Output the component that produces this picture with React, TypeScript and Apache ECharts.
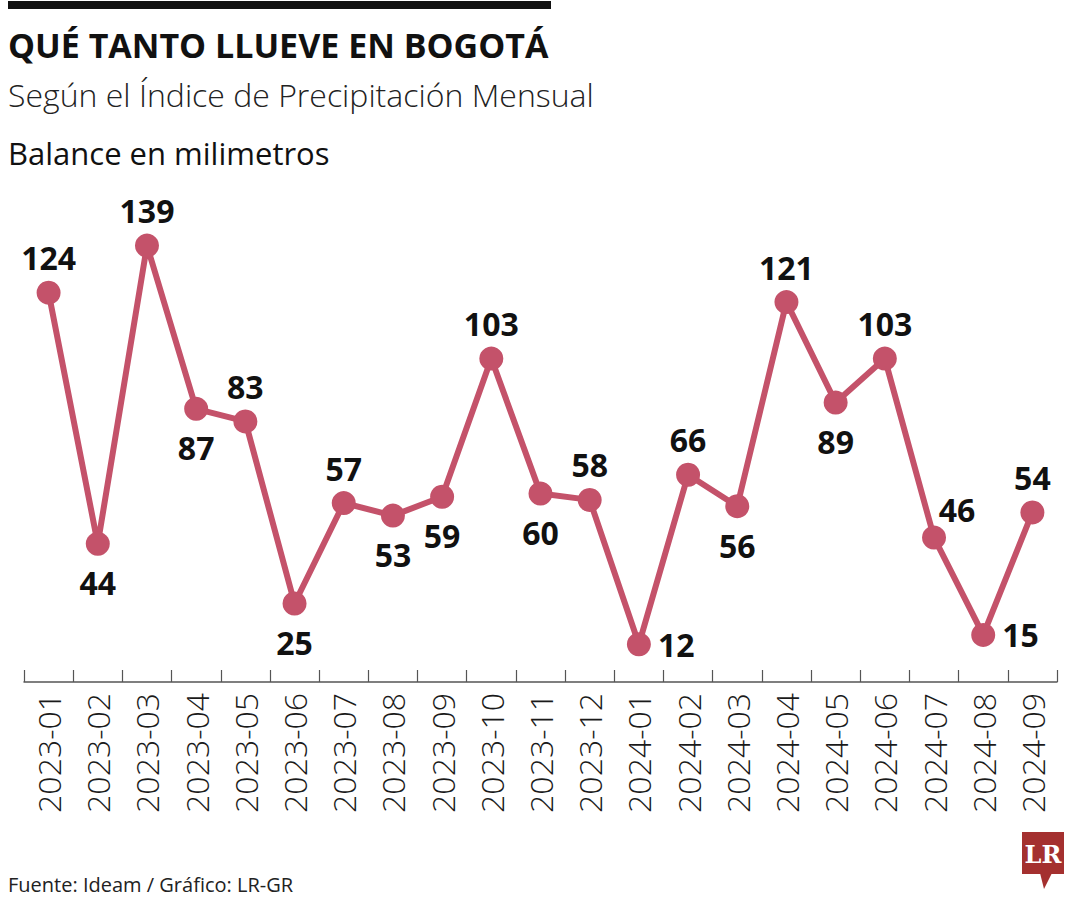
import React, { useEffect, useRef } from "react";
import * as echarts from "echarts";

const months = [
  "2023-01", "2023-02", "2023-03", "2023-04", "2023-05", "2023-06", "2023-07",
  "2023-08", "2023-09", "2023-10", "2023-11", "2023-12", "2024-01", "2024-02",
  "2024-03", "2024-04", "2024-05", "2024-06", "2024-07", "2024-08", "2024-09",
];
const balance = [124, 44, 139, 87, 83, 25, 57, 53, 59, 103, 60, 58, 12, 66, 56, 121, 89, 103, 46, 15, 54];
// where each value label sits relative to its point
const labelSide = [
  "top", "bottom", "top", "bottom", "top", "bottom", "top", "bottom", "bottom", "top",
  "bottom", "top", "right", "top", "bottom", "top", "bottom", "top", "topright", "right", "top",
];

const LINE = "#c4526a";
const SANS = "'Open Sans', 'Noto Sans', sans-serif";

export default function App() {
  const ref = useRef<HTMLDivElement>(null);
  useEffect(() => {
    if (!ref.current) return;
    const chart = echarts.init(ref.current, null, { renderer: "svg" });
    const data = balance.map((v, i) => {
      const side = labelSide[i];
      let label: any = { position: side, distance: side === "bottom" ? 11 : 7 };
      if (side === "topright") label = { position: "top", distance: 7, offset: [23, 7] };
      if (side === "right") label = { position: "right", distance: 7 };
      return { value: v, label };
    });
    chart.setOption({
      animation: false,
      backgroundColor: "#ffffff",
      grid: { left: 24, right: 23, top: 211, bottom: 218, containLabel: false },
      xAxis: {
        type: "category",
        data: months,
        boundaryGap: true,
        axisLine: { show: true, lineStyle: { color: "#555", width: 1.5 } },
        axisTick: { show: true, inside: true, length: 12, alignWithLabel: false, lineStyle: { color: "#555", width: 1.2 } },
        axisLabel: {
          rotate: 90,
          margin: 11,
          fontFamily: SANS,
          fontWeight: 300,
          fontSize: 32,
          color: "#1a1a1a",
          interval: 0,
        },
      },
      yAxis: {
        type: "value",
        min: 0,
        max: 150,
        show: false,
        splitLine: { show: false },
      },
      series: [
        {
          type: "line",
          data,
          symbol: "circle",
          symbolSize: 24,
          lineStyle: { color: LINE, width: 6 },
          itemStyle: { color: LINE },
          label: {
            show: true,
            fontFamily: SANS,
            fontWeight: "bold",
            fontSize: 32,
            color: "#111",
          },
        },
      ],
      graphic: [
        { type: "rect", shape: { x: 8, y: 1, width: 543, height: 8 }, style: { fill: "#111" } },
        {
          type: "text", x: 8, y: 28,
          style: { text: "QUÉ TANTO LLUEVE EN BOGOTÁ", font: `bold 34px ${SANS}`, fill: "#111" },
        },
        {
          type: "text", x: 8, y: 78,
          style: { text: "Según el Índice de Precipitación Mensual", font: `300 32px ${SANS}`, fill: "#222" },
        },
        {
          type: "text", x: 8, y: 137,
          style: { text: "Balance en milimetros", font: `normal 31px ${SANS}`, fill: "#111" },
        },
        {
          type: "text", x: 8, y: 874,
          style: { text: "Fuente: Ideam / Gráfico: LR-GR", font: `normal 20px ${SANS}`, fill: "#222" },
        },
        { type: "rect", shape: { x: 1022, y: 832, width: 42, height: 42 }, style: { fill: "#a4302f" } },
        { type: "polygon", shape: { points: [[1040, 873], [1052, 873], [1044, 889]] }, style: { fill: "#a4302f" } },
        {
          type: "text", x: 1043, y: 854,
          style: {
            text: "LR", font: "bold 24px 'DejaVu Serif', 'Liberation Serif', serif",
            fill: "#fff", align: "center", verticalAlign: "middle",
          },
        },
      ],
    });
    return () => chart.dispose();
  }, []);
  return <div ref={ref} style={{ position: "absolute", left: 0, top: 0, width: 1080, height: 900 }} />;
}
